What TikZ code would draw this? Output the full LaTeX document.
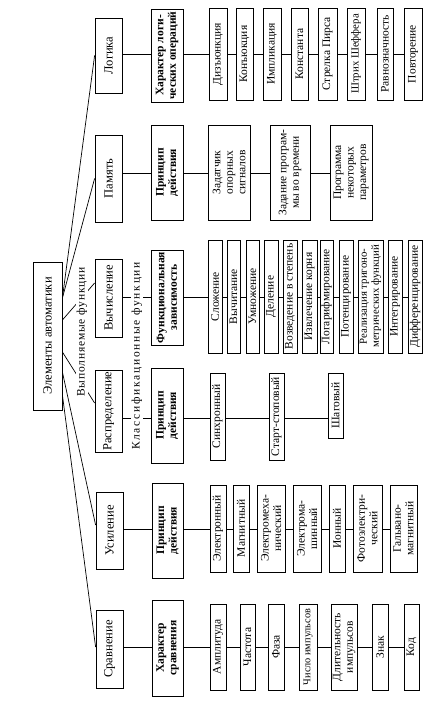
\documentclass[tikz,border=0pt]{standalone}
\usepackage{fontspec}
\setmainfont{Liberation Serif}
\usetikzlibrary{calc}
\newcommand\BX[7]{\node[#1, minimum width={(#6-#5)*1pt}, minimum height={(#4-#3)*1pt}] (#2) at ({(#3+#4)/2},{(#5+#6)/2}) {#7};}
\tikzset{
  box/.style={draw, rotate=90, inner sep=0pt, align=center, line width=0.8pt},
  rootbox/.style={box, font=\fontsize{12.5}{13}\selectfont},
  lvlone/.style={box, font=\fontsize{12.5}{13}\selectfont},
  lvltwo/.style={box, font=\bfseries\fontsize{11.5}{12.5}\selectfont},
  leaf/.style={box, font=\fontsize{11.5}{12.5}\selectfont},
  smallleaf/.style={box, font=\fontsize{10.8}{12}\selectfont},
  conn/.style={line width=0.7pt},
  lab/.style={rotate=90, fill=white, inner sep=1pt}
}
\begin{document}
\begin{tikzpicture}[x=1pt,y=-1pt]
\fill[white] (0,0) rectangle (435,710);
\useasboundingbox (0,0) rectangle (435,710);
% root
\BX{rootbox}{root}{33}{62}{262}{410}{Элементы автоматики}
% level 1
\BX{lvlone}{logika}{95}{122}{18}{93}{Логика}
\BX{lvlone}{pamyat}{95}{122}{135}{222}{Память}
\BX{lvlone}{vych}{95}{122}{259}{337}{Вычисление}
\BX{lvlone}{raspr}{95}{122}{370}{452}{Распределение}
\BX{lvlone}{usil}{96}{123}{492}{569}{Усиление}
\BX{lvlone}{sravn}{96}{123}{610}{688}{Сравнение}
% level 2
\BX{lvltwo}{h1}{151}{183}{9}{102}{Характер логи-\\ческих операций}
\BX{lvltwo}{h2}{151}{183}{125}{220}{Принцип\\действия}
\BX{lvltwo}{h3}{151}{183}{250}{345}{Функциональная\\зависимость}
\BX{lvltwo}{h4}{151}{183}{368}{463}{Принцип\\действия}
\BX{lvltwo}{h5}{152}{183}{483}{578}{Принцип\\действия}
\BX{lvltwo}{h6}{152}{183}{600}{696}{Характер\\сравнения}
% logic leaves
\BX{leaf}{a1}{209}{227}{8}{100}{Дизъюнкция}
\BX{leaf}{a2}{236}{253}{8}{100}{Конъюкция}
\BX{leaf}{a3}{263}{281}{8}{100}{Импликация}
\BX{leaf}{a4}{291}{308}{8}{100}{Константа}
\BX{leaf}{a5}{318}{337}{8}{100}{Стрелка Пирса}
\BX{smallleaf}{a6}{347}{365}{8}{100}{Штрих Шеффера}
\BX{leaf}{a7}{377}{393}{8}{100}{Равнозначность}
\BX{leaf}{a8}{404}{422}{8}{100}{Повторение}
% memory leaves
\BX{leaf}{b1}{208}{250}{125}{220}{Задатчик\\опорных\\сигналов}
\BX{leaf}{b2}{270}{310}{125}{220}{Задание програм-\\мы во времени}
\BX{leaf}{b3}{330}{372}{125}{220}{Программа\\некоторых\\параметров}
% computation leaves
\BX{leaf}{c1}{208}{222}{240}{353}{Сложение}
\BX{leaf}{c2}{227}{240}{240}{353}{Вычитание}
\BX{leaf}{c3}{246}{259}{240}{353}{Умножение}
\BX{leaf}{c4}{264}{278}{240}{353}{Деление}
\BX{leaf}{c5}{283}{297}{240}{353}{Возведение в степень}
\BX{leaf}{c6}{302}{317}{240}{353}{Извлечение корня}
\BX{leaf}{c7}{320}{333}{240}{353}{Логарифмирование}
\BX{leaf}{c8}{339}{353}{240}{353}{Потенцирование}
\BX{smallleaf}{c9}{358}{383}{240}{353}{Реализация тригоно-\\метрических функций}
\BX{leaf}{c10}{388}{402}{240}{353}{Интегрирование}
\BX{leaf}{c11}{408}{422}{240}{353}{Дифференцирование}
% distribution leaves
\BX{leaf}{d1}{210}{225}{373}{460}{Синхронный}
\BX{leaf}{d2}{269}{284}{373}{460}{Старт-стоповый}
\BX{leaf}{d3}{328}{343}{373}{438}{Шаговый}
% amplification leaves
\BX{leaf}{e1}{210}{226}{485}{572}{Электронный}
\BX{leaf}{e2}{233}{249}{485}{572}{Магнитный}
\BX{leaf}{e3}{257}{285}{485}{572}{Электромеха-\\нический}
\BX{leaf}{e4}{293}{321}{485}{572}{Электрома-\\шинный}
\BX{leaf}{e5}{329}{345}{485}{572}{Ионный}
\BX{leaf}{e6}{353}{382}{485}{572}{Фотоэлектри-\\ческий}
\BX{leaf}{e7}{390}{417}{485}{572}{Гальвано-\\магнитный}
% comparison leaves
\BX{leaf}{f1}{210}{226}{604}{690}{Амплитуда}
\BX{leaf}{f2}{240}{255}{604}{690}{Частота}
\BX{leaf}{f3}{268}{284}{604}{690}{Фаза}
\BX{box, font=\fontsize{10.3}{12}\selectfont}{f4}{299}{317}{604}{690}{Число импульсов}
\BX{leaf}{f5}{331}{357}{604}{690}{Длительность\\импульсов}
\BX{leaf}{f6}{372}{388}{604}{690}{Знак}
\BX{leaf}{f7}{404}{419}{604}{690}{Код}
% row coordinates
\coordinate (r1) at (0,54);
\coordinate (r2) at (0,173);
\coordinate (r3) at (0,297);
\coordinate (r4) at (0,418);
\coordinate (r5) at (0,529);
\coordinate (r6) at (0,647);
% row connectors
\foreach \r/\a/\b in {r1/logika/h1, r1/h1/a1, r1/a1/a2, r1/a2/a3, r1/a3/a4, r1/a4/a5, r1/a5/a6, r1/a6/a7, r1/a7/a8,
  r2/pamyat/h2, r2/h2/b1, r2/b1/b2, r2/b2/b3,
  r3/vych/h3, r3/h3/c1, r3/c1/c2, r3/c2/c3, r3/c3/c4, r3/c4/c5, r3/c5/c6, r3/c6/c7, r3/c7/c8, r3/c8/c9, r3/c9/c10, r3/c10/c11,
  r4/raspr/h4, r4/h4/d1, r4/d1/d2, r4/d2/d3,
  r5/usil/h5, r5/h5/e1, r5/e1/e2, r5/e2/e3, r5/e3/e4, r5/e4/e5, r5/e5/e6, r5/e6/e7,
  r6/sravn/h6, r6/h6/f1, r6/f1/f2, r6/f2/f3, r6/f3/f4, r6/f4/f5, r6/f5/f6, r6/f6/f7}
  {\draw[conn] (\r -| \a.south) -- (\r -| \b.north);}
% fan from root
\coordinate (s1) at (root.south |- 0,298);
\coordinate (s3) at (root.south |- 0,320);
\coordinate (s4) at (root.south |- 0,352);
\coordinate (s5) at (root.south |- 0,372);
\coordinate (s6) at (root.south |- 0,395);
\coordinate (t3) at (vych.north |- 0,283);
\coordinate (t4) at (raspr.north |- 0,403);
\coordinate (t5) at (usil.north |- 0,525);
\coordinate (t6) at (sravn.north |- 0,647);
\draw[conn] (s1) -- (logika.north);
\draw[conn] (s1) -- (pamyat.north);
\draw[conn] (s3) -- (t3);
\draw[conn] (s4) -- (t4);
\draw[conn] (s5) -- (t5);
\draw[conn] (s6) -- (t6);
% labels
\node[lab, font=\fontsize{11.5}{13}\selectfont\addfontfeature{LetterSpace=7}] (vf) at (82,332) {Выполняемые функции};
\node[lab, font=\fontsize{11.5}{13}\selectfont\addfontfeature{LetterSpace=15}] (kf) at (137,356) {Классификационные функции};
\end{tikzpicture}
\end{document}
